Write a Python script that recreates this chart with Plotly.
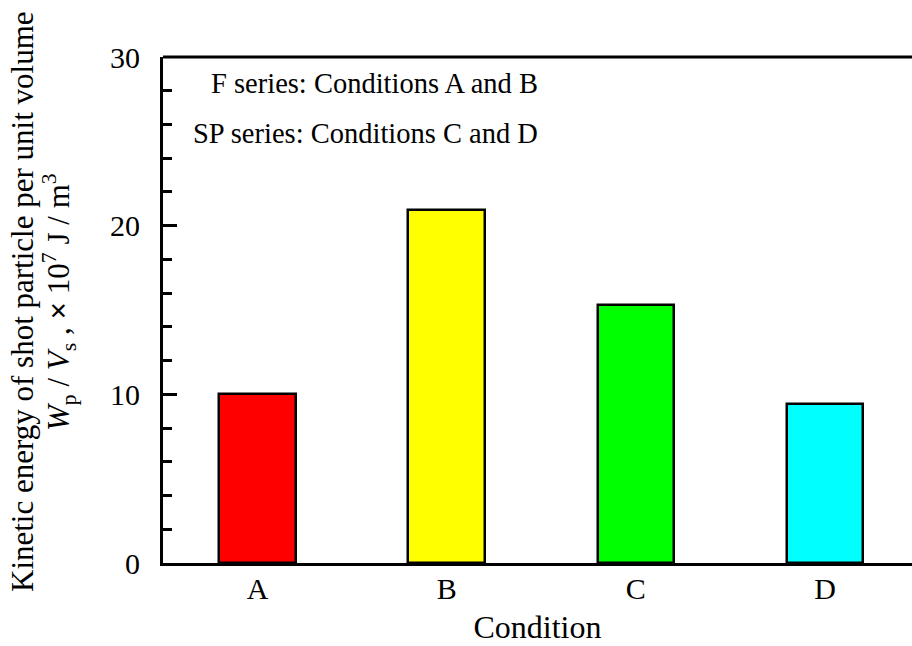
import plotly.graph_objects as go

categories = ["A", "B", "C", "D"]
values = [10.0, 20.9, 15.3, 9.45]
colors = ["#ff0000", "#ffff00", "#00ff00", "#00ffff"]
y_ticks = [0, 10, 20, 30]
notes = ["F series: Conditions A and B", "SP series: Conditions C and D"]

FONT = "Liberation Serif, Times New Roman, serif"

fig = go.Figure()
fig.add_trace(go.Bar(
    x=list(range(len(categories))), y=values,
    width=0.405,
    marker=dict(color=colors, line=dict(color="black", width=2.5)),
))

fig.update_layout(
    width=912, height=646,
    margin=dict(l=163, r=0, t=57, b=83),
    plot_bgcolor="white", paper_bgcolor="white",
    showlegend=False,
    font=dict(family=FONT, color="black", size=30),
    bargap=0,
)
fig.update_xaxes(
    range=[-0.5, 3.46],
    tickmode="array", tickvals=list(range(len(categories))), ticktext=categories,
    showline=True, linecolor="black", linewidth=3,
    ticks="", showgrid=False, zeroline=False,
    tickfont=dict(size=30),
    ticklabelstandoff=-3,
    title=dict(text="Condition", font=dict(size=32), standoff=12),
)
fig.update_yaxes(
    range=[0, 30],
    tickmode="array", tickvals=y_ticks, ticktext=[str(v) for v in y_ticks],
    showline=True, linecolor="black", linewidth=3,
    ticks="inside", ticklen=14, tickwidth=3, tickcolor="black",
    minor=dict(dtick=2, ticks="inside", ticklen=9, tickwidth=2.5, tickcolor="black", showgrid=False),
    showgrid=False, zeroline=False,
    tickfont=dict(size=30),
    ticklabelstandoff=14,
)

# top border
fig.add_shape(type="line", xref="paper", yref="paper", x0=0, x1=1, y0=1, y1=1,
              line=dict(color="black", width=3))

# notes
fig.add_annotation(text=notes[0], xref="paper", yref="paper", x=(540 - 163) / 749, y=(563 - 83) / 506,
                   xanchor="right", yanchor="middle", showarrow=False, font=dict(size=28.5))
fig.add_annotation(text=notes[1], xref="paper", yref="paper", x=(540 - 163) / 749, y=(563 - 133) / 506,
                   xanchor="right", yanchor="middle", showarrow=False, font=dict(size=28.5))

# y title as two rotated lines
fig.add_annotation(text="Kinetic energy of shot particle per unit volume",
                   xref="paper", yref="paper", x=0, y=0.5, xshift=-141, yshift=8,
                   xanchor="center", yanchor="middle", textangle=-90, showarrow=False,
                   font=dict(size=31))
fig.add_annotation(text="<i>W</i><sub>p</sub> / <i>V</i><sub>s</sub> , <b>×</b> 10<sup>7</sup> J / m<sup>3</sup>",
                   xref="paper", yref="paper", x=0, y=0.5, xshift=-104, yshift=8,
                   xanchor="center", yanchor="middle", textangle=-90, showarrow=False,
                   font=dict(size=31))

fig.write_html("out.html")
